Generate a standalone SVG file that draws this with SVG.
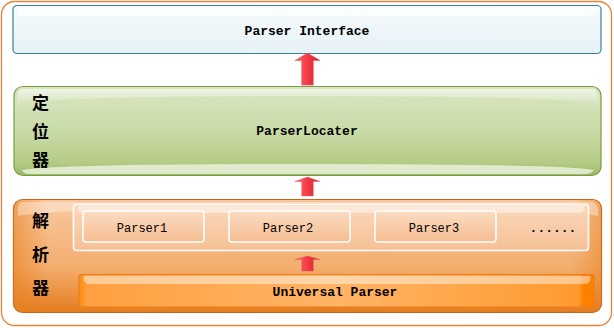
<svg xmlns="http://www.w3.org/2000/svg" width="614" height="328" viewBox="0 0 614 328">
  <defs>
    <linearGradient id="gBlue" x1="0" y1="0" x2="0" y2="1">
      <stop offset="0" stop-color="#f7fbfd"/>
      <stop offset="1" stop-color="#e6f2f6"/>
    </linearGradient>
    <linearGradient id="gGreen" x1="0" y1="0" x2="0" y2="1">
      <stop offset="0" stop-color="#d9e6c2"/>
      <stop offset="0.5" stop-color="#c9dba8"/>
      <stop offset="0.85" stop-color="#b5cc86"/>
      <stop offset="1" stop-color="#9ab866"/>
    </linearGradient>
    <linearGradient id="gOrange" x1="0" y1="0" x2="0" y2="1">
      <stop offset="0" stop-color="#f9c8a0"/>
      <stop offset="0.6" stop-color="#f4ad6e"/>
      <stop offset="1" stop-color="#e47c1e"/>
    </linearGradient>
    <linearGradient id="gOrangeSide" x1="0" y1="0" x2="1" y2="0">
      <stop offset="0" stop-color="#e8801e" stop-opacity="0.55"/>
      <stop offset="0.06" stop-color="#e8801e" stop-opacity="0"/>
      <stop offset="0.95" stop-color="#e8801e" stop-opacity="0"/>
      <stop offset="1" stop-color="#e8801e" stop-opacity="0.5"/>
    </linearGradient>
    <linearGradient id="gPanel" x1="0" y1="0" x2="0" y2="1">
      <stop offset="0" stop-color="#fbd8bb"/>
      <stop offset="1" stop-color="#f6c096"/>
    </linearGradient>
    <linearGradient id="gCell" x1="0" y1="0" x2="0" y2="1">
      <stop offset="0" stop-color="#fbdcc2"/>
      <stop offset="1" stop-color="#f5bd92"/>
    </linearGradient>
    <linearGradient id="gBar" x1="0" y1="0" x2="1" y2="0">
      <stop offset="0" stop-color="#ff8a10"/>
      <stop offset="0.015" stop-color="#ffa040"/>
      <stop offset="0.5" stop-color="#ffb466"/>
      <stop offset="0.97" stop-color="#ff9a30"/>
      <stop offset="0.98" stop-color="#ff8000"/>
      <stop offset="1" stop-color="#ff8000"/>
    </linearGradient>
    <linearGradient id="gGloss" x1="0" y1="0" x2="0" y2="1">
      <stop offset="0" stop-color="#ffffff" stop-opacity="0.85"/>
      <stop offset="1" stop-color="#ffffff" stop-opacity="0.1"/>
    </linearGradient>
    <linearGradient id="gArrow" x1="0" y1="0" x2="1" y2="0">
      <stop offset="0" stop-color="#f76a6a"/>
      <stop offset="0.5" stop-color="#f53a46"/>
      <stop offset="1" stop-color="#c8202c"/>
    </linearGradient>
    <symbol id="upArrow" viewBox="0 0 28 36" preserveAspectRatio="none" overflow="visible">
      <path d="M14 0 L27 8 L20 8 L20 34 L8 34 L8 8 L1 8 Z" fill="url(#gArrow)" stroke="#e05a60" stroke-width="0.6"/>
    </symbol>
  </defs>
  <style>
    .mono { font-family: "Liberation Mono", "DejaVu Sans Mono", monospace; fill: #000; }
    .bold { font-weight: bold; }
    .cjk { font-family: "Noto Sans CJK SC", sans-serif; font-size: 17px; font-weight: bold; fill: #000; }
    .cell { fill: url(#gCell); stroke: #ffffff; stroke-width: 1.6; }
  </style>

  <!-- outer frame -->
  <rect x="1.5" y="1.5" width="610" height="324" rx="13" fill="#ffffff" stroke="#e9823a" stroke-width="1.3"/>

  <!-- interface layer -->
  <g id="parser-interface">
    <rect x="13" y="5.5" width="588" height="48" rx="4" fill="url(#gBlue)" stroke="#3d7f96" stroke-width="1.2"/>
    <path d="M18 8 H596 Q598 14 592 16 H22 Q16 14 18 8 Z" fill="#ffffff" opacity="0.6"/>
    <text class="mono bold" x="307" y="34.5" font-size="13" text-anchor="middle">Parser Interface</text>
  </g>

  <!-- locator layer -->
  <g id="parser-locater">
    <rect x="14" y="86.5" width="587" height="89" rx="9" fill="url(#gGreen)" stroke="#7c9c40" stroke-width="1.2"/>
    <path d="M22 89 H592 Q600 91 598 104 Q560 96 310 96 Q60 96 18 104 Q16 91 22 89 Z" fill="url(#gGloss)" opacity="0.7"/>
    <path d="M22 170 Q60 164 310 164 Q560 164 594 170 Q590 174 586 174 H28 Q24 174 22 170 Z" fill="#f3f7ea" opacity="0.75"/>
    <text class="mono bold" x="307" y="135" font-size="13" text-anchor="middle">ParserLocater</text>
    <text class="cjk" x="32" y="109">定</text>
    <text class="cjk" x="32" y="138">位</text>
    <text class="cjk" x="32" y="166">器</text>
  </g>

  <!-- parser layer -->
  <g id="parsers">
    <rect x="13.5" y="199.5" width="588" height="113" rx="9" fill="url(#gOrange)" stroke="#c8641a" stroke-width="1.2"/>
    <rect x="13.5" y="199.5" width="588" height="113" rx="9" fill="url(#gOrangeSide)"/>
    <path d="M22 202 H592 Q600 204 598 216 Q560 208 310 208 Q60 208 18 216 Q16 204 22 202 Z" fill="#ffffff" opacity="0.35"/>
    <text class="cjk" x="32" y="227">解</text>
    <text class="cjk" x="32" y="261">析</text>
    <text class="cjk" x="32" y="294">器</text>
  </g>

  <!-- concrete parsers panel -->
  <g id="parser-panel">
    <rect x="73.5" y="204.5" width="515" height="46" rx="3" fill="url(#gPanel)" stroke="#ffffff" stroke-width="1.6"/>
    <path d="M78 206 H584 Q586 211 580 213 H82 Q76 211 78 206 Z" fill="#ffffff" opacity="0.45"/>
  </g>
  <g id="parser1">
    <rect class="cell" x="83" y="211" width="121" height="31" rx="3"/>
    <text class="mono" x="142" y="232" font-size="12" text-anchor="middle">Parser1</text>
  </g>
  <g id="parser2">
    <rect class="cell" x="229" y="211" width="121" height="31" rx="3"/>
    <text class="mono" x="288" y="232" font-size="12" text-anchor="middle">Parser2</text>
  </g>
  <g id="parser3">
    <rect class="cell" x="375" y="211" width="121" height="31" rx="3"/>
    <text class="mono" x="434" y="232" font-size="12" text-anchor="middle">Parser3</text>
  </g>
  <g id="more-parsers">
    <text class="mono bold" x="553" y="232" font-size="13" text-anchor="middle">......</text>
  </g>

  <!-- universal parser -->
  <g id="universal-parser">
    <rect x="79" y="274.5" width="515" height="33" rx="2" fill="url(#gBar)" stroke="#e07a1a" stroke-width="0.8"/>
    <path d="M84 276 H590 Q592 282 586 284 H88 Q82 282 84 276 Z" fill="#ffffff" opacity="0.45"/>
    <rect x="79" y="306" width="515" height="2" fill="#f08020" opacity="0.6"/>
    <text class="mono bold" x="335" y="296" font-size="13" text-anchor="middle">Universal Parser</text>
  </g>

  <!-- connectors, drawn on top of the layers -->
  <g id="connectors">
    <use href="#upArrow" x="294" y="53" width="27" height="34"/>
    <use href="#upArrow" x="294" y="177" width="27" height="20"/>
    <use href="#upArrow" x="294" y="256" width="27" height="16"/>
  </g>
</svg>
